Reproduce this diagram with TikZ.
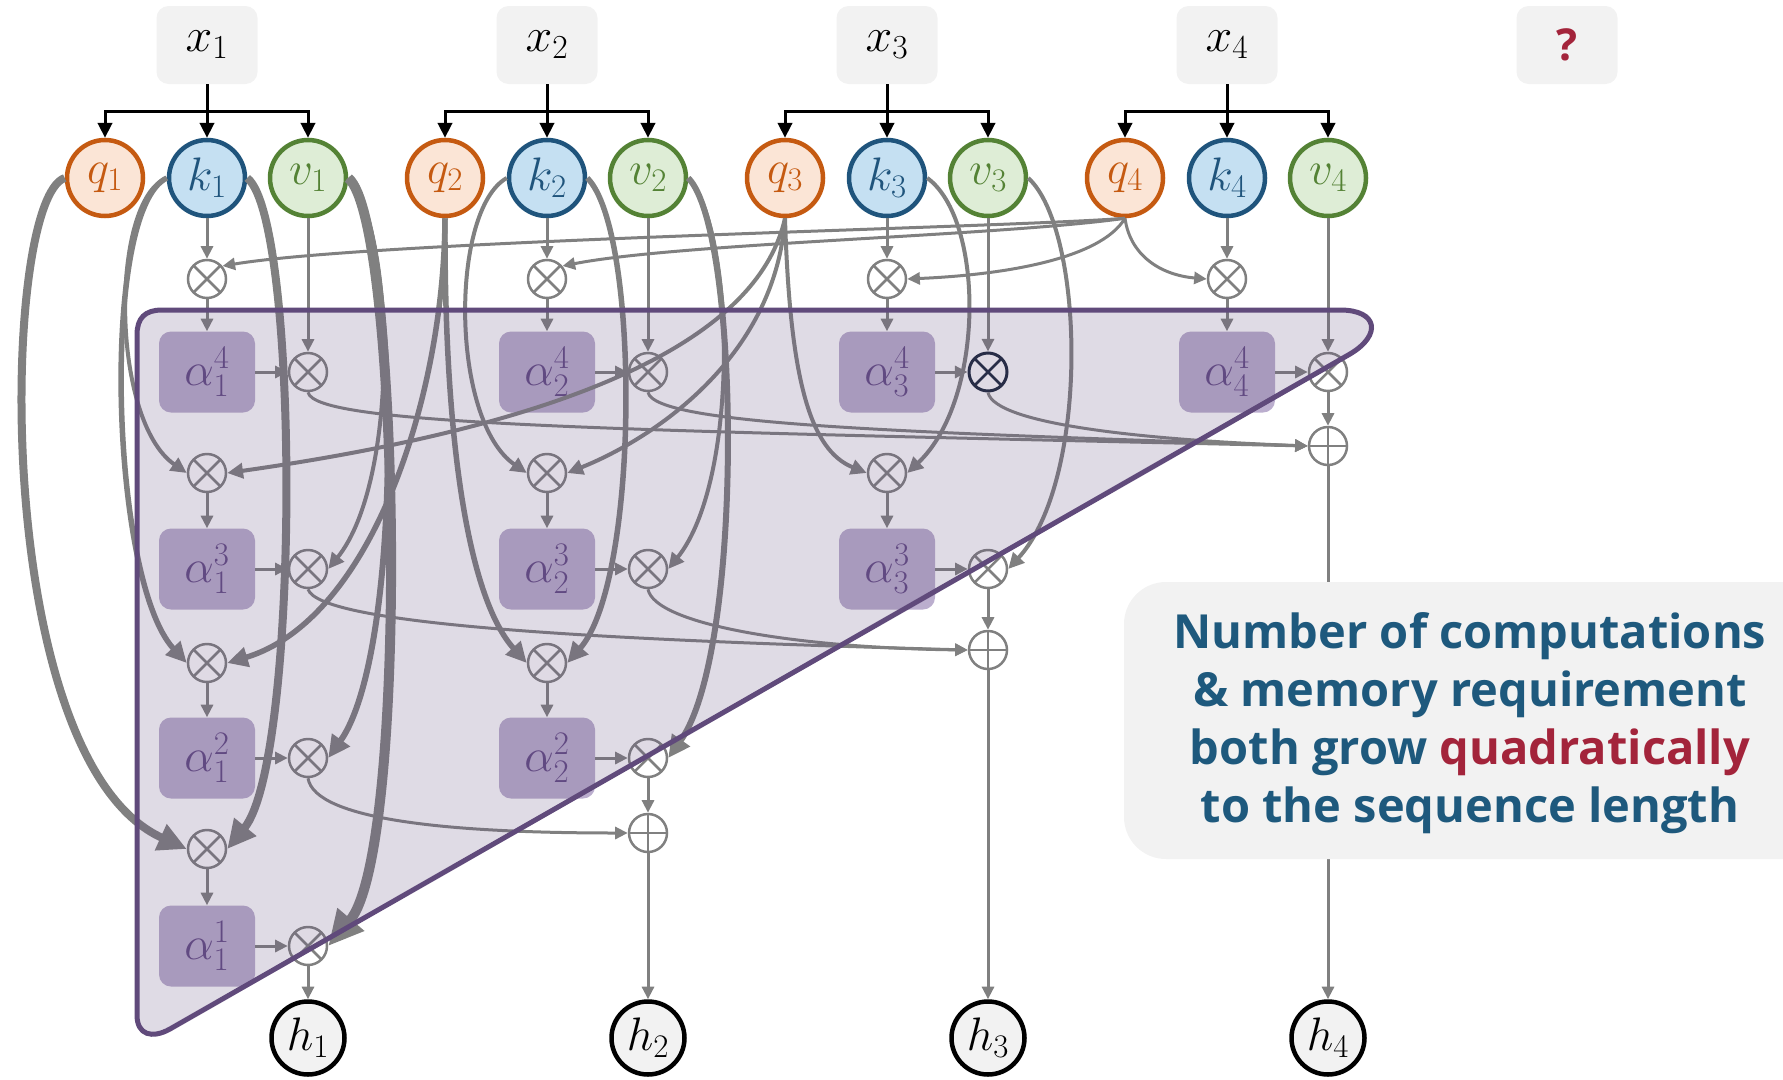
\documentclass[tikz,border=0pt]{standalone}
\usepackage{fix-cm}
\usepackage{fontspec}
\usepackage{tikz}
\usetikzlibrary{arrows.meta}
\newfontfamily\notefont{Open Sans}

\definecolor{qline}{RGB}{197,90,17}
\definecolor{qfill}{RGB}{251,229,214}
\definecolor{kline}{RGB}{31,84,124}
\definecolor{kfill}{RGB}{197,224,242}
\definecolor{vline}{RGB}{84,130,53}
\definecolor{vfill}{RGB}{222,237,214}
\definecolor{boxgray}{RGB}{242,242,242}
\definecolor{arrowgray}{RGB}{128,128,128}
\definecolor{alphafill}{RGB}{187,174,206}
\definecolor{alphatext}{RGB}{98,74,132}
\definecolor{regionpurple}{RGB}{96,74,123}
\definecolor{noteblue}{RGB}{30,89,125}
\definecolor{notered}{RGB}{163,36,59}
\definecolor{darkmul}{RGB}{27,38,59}

\begin{document}
\begin{tikzpicture}[x=1pt, y=1pt,
  inbox/.style={fill=boxgray, rounded corners=12pt, minimum width=101pt, minimum height=78pt, inner sep=0pt, font=\fontsize{48}{48}\selectfont},
  token/.style={circle, line width=4.5pt, minimum size=76pt, inner sep=0pt, font=\fontsize{47}{47}\selectfont},
  qnode/.style={token, draw=qline, fill=qfill, text=qline},
  knode/.style={token, draw=kline, fill=kfill, text=kline},
  vnode/.style={token, draw=vline, fill=vfill, text=vline},
  hnode/.style={token, draw=black, fill=boxgray, minimum size=73pt},
  alphabox/.style={fill=alphafill, rounded corners=12pt, minimum width=96pt, minimum height=81pt, inner sep=0pt, text=alphatext, font=\fontsize{47}{47}\selectfont},
  prodnode/.style={circle, draw=#1, fill=white, line width=2.5pt, minimum size=38pt, inner sep=0pt,
    path picture={\draw[#1, line width=2.5pt] (path picture bounding box.center) ++(45:25) -- ++(225:50)
      (path picture bounding box.center) ++(135:25) -- ++(-45:50);}},
  prodnode/.default=arrowgray,
  sumnode/.style={circle, draw=arrowgray, fill=white, line width=2.5pt, minimum size=38pt, inner sep=0pt,
    path picture={\draw[arrowgray, line width=2.5pt] (path picture bounding box.center) ++(0:25) -- ++(180:50)
      (path picture bounding box.center) ++(90:25) -- ++(270:50);}},
  fork/.style={draw=black, line width=3pt, -{Triangle[length=3pt 4, width=3pt 3.8]}},
  gline/.style={draw=arrowgray, line width=3pt, -{Triangle[length=3pt 3.2, width=3pt 3]}}
]

\useasboundingbox (0,0) rectangle (1783,-1079);

% column 1
\begin{scope}[xshift=0pt]
\node[inbox] (x1) at (207,-45) {$x_1$};
\coordinate (b1) at (207,-111);
\node[qnode] (q1) at (105,-178) {$q_1$};
\node[knode] (k1) at (207,-178) {$k_1$};
\node[vnode] (v1) at (308,-178) {$v_1$};

\node[prodnode] (qk41) at (207,-279) {};
\node[alphabox] (a41) at (207,-372) {$\alpha_1^4$};
\node[prodnode] (av41) at (308,-372) {};

\node[prodnode] (qk31) at (207,-473) {};
\node[alphabox] (a31) at (207,-569) {$\alpha_1^3$};
\node[prodnode] (av31) at (308,-569) {};

\node[prodnode] (qk21) at (207,-663) {};
\node[alphabox] (a21) at (207,-758) {$\alpha_1^2$};
\node[prodnode] (av21) at (308,-758) {};

\node[prodnode] (qk11) at (207,-849) {};
\node[alphabox] (a11) at (207,-946) {$\alpha_1^1$};
\node[prodnode] (av11) at (308,-946) {};

\node[hnode] (h1) at (308,-1038) {$h_1$};

\draw[fork] (x1) -- (k1);
\draw[fork] (b1) -| (q1);
\draw[fork] (b1) -| (v1);

\draw[gline] (k1) -- (qk41);
\draw[gline] (v1) -- (av41);
\draw[gline] (qk41) -- (a41);
\draw[gline] (a41) -- (av41);
\draw[gline] (qk31) -- (a31);
\draw[gline] (a31) -- (av31);
\draw[gline] (qk21) -- (a21);
\draw[gline] (a21) -- (av21);
\draw[gline] (qk11) -- (a11);
\draw[gline] (a11) -- (av11);
\draw[gline] (av11) -- (h1);
\end{scope}

% column 2
\begin{scope}[xshift=340pt]
\node[inbox] (x2) at (207,-45) {$x_2$};
\coordinate (b2) at (207,-111);
\node[qnode] (q2) at (105,-178) {$q_2$};
\node[knode] (k2) at (207,-178) {$k_2$};
\node[vnode] (v2) at (308,-178) {$v_2$};

\node[prodnode] (qk42) at (207,-279) {};
\node[alphabox] (a42) at (207,-372) {$\alpha_2^4$};
\node[prodnode] (av42) at (308,-372) {};

\node[prodnode] (qk32) at (207,-473) {};
\node[alphabox] (a32) at (207,-569) {$\alpha_2^3$};
\node[prodnode] (av32) at (308,-569) {};

\node[prodnode] (qk22) at (207,-663) {};
\node[alphabox] (a22) at (207,-758) {$\alpha_2^2$};
\node[prodnode] (av22) at (308,-758) {};

\node[sumnode] (s2) at (308,-833) {};
\node[hnode] (h2) at (308,-1038) {$h_2$};

\draw[fork] (x2) -- (k2);
\draw[fork] (b2) -| (q2);
\draw[fork] (b2) -| (v2);

\draw[gline] (k2) -- (qk42);
\draw[gline] (v2) -- (av42);
\draw[gline] (qk42) -- (a42);
\draw[gline] (a42) -- (av42);
\draw[gline] (qk32) -- (a32);
\draw[gline] (a32) -- (av32);
\draw[gline] (qk22) -- (a22);
\draw[gline] (a22) -- (av22);
\draw[gline] (av22) -- (s2);
\draw[gline] (s2) -- (h2);
\end{scope}

% column 3
\begin{scope}[xshift=680pt]
\node[inbox] (x3) at (207,-45) {$x_3$};
\coordinate (b3) at (207,-111);
\node[qnode] (q3) at (105,-178) {$q_3$};
\node[knode] (k3) at (207,-178) {$k_3$};
\node[vnode] (v3) at (308,-178) {$v_3$};

\node[prodnode] (qk43) at (207,-279) {};
\node[alphabox] (a43) at (207,-372) {$\alpha_3^4$};
\node[prodnode=darkmul, line width=3pt] (av43) at (308,-372) {};

\node[prodnode] (qk33) at (207,-473) {};
\node[alphabox] (a33) at (207,-569) {$\alpha_3^3$};
\node[prodnode] (av33) at (308,-569) {};

\node[sumnode] (s3) at (308,-650) {};
\node[hnode] (h3) at (308,-1038) {$h_3$};

\draw[fork] (x3) -- (k3);
\draw[fork] (b3) -| (q3);
\draw[fork] (b3) -| (v3);

\draw[gline] (k3) -- (qk43);
\draw[gline] (v3) -- (av43);
\draw[gline] (qk43) -- (a43);
\draw[gline] (a43) -- (av43);
\draw[gline] (qk33) -- (a33);
\draw[gline] (a33) -- (av33);
\draw[gline] (av33) -- (s3);
\draw[gline] (s3) -- (h3);
\end{scope}

% column 4
\begin{scope}[xshift=1020pt]
\node[inbox] (x4) at (207,-45) {$x_4$};
\coordinate (b4) at (207,-111);
\node[qnode] (q4) at (105,-178) {$q_4$};
\node[knode] (k4) at (207,-178) {$k_4$};
\node[vnode] (v4) at (308,-178) {$v_4$};

\node[prodnode] (qk44) at (207,-279) {};
\node[alphabox] (a44) at (207,-372) {$\alpha_4^4$};
\node[prodnode] (av44) at (308,-372) {};

\node[sumnode] (s4) at (308,-446) {};
\node[hnode] (h4) at (308,-1038) {$h_4$};

\draw[fork] (x4) -- (k4);
\draw[fork] (b4) -| (q4);
\draw[fork] (b4) -| (v4);

\draw[gline] (k4) -- (qk44);
\draw[gline] (v4) -- (av44);
\draw[gline] (qk44) -- (a44);
\draw[gline] (a44) -- (av44);
\draw[gline] (av44) -- (s4);
\draw[gline] (s4) -- (h4);
\end{scope}

\node[inbox, text=notered, font=\notefont\bfseries\fontsize{44}{44}\selectfont] (qmark) at (1567,-45) {?};

% query 4
\draw[gline] (q4.south) .. controls (1000,-228) and (380,-240) .. (qk41.40);
\draw[gline] (q4.south) .. controls (1000,-236) and (680,-243) .. (qk42.40);
\draw[gline] (q4.south) .. controls (1100,-260) and (1000,-275) .. (qk43.east);
\draw[gline] (q4.south) .. controls (1130,-255) and (1160,-275) .. (qk44.west);

% query 3
\draw[gline, line width=4pt] (k1.west) .. controls (110,-200) and (110,-420) .. (qk31.west);
\draw[gline, line width=4pt] (k2.west) .. controls (450,-210) and (450,-420) .. (qk32.west);
\draw[gline, line width=4pt] (k3.east) .. controls (985,-220) and (985,-400) .. (qk33.east);
\draw[gline, line width=4pt] (q3.south) .. controls (760,-330) and (600,-420) .. (qk31.east);
\draw[gline, line width=4pt] (q3.south) .. controls (775,-360) and (650,-440) .. (qk32.east);
\draw[gline, line width=4pt] (q3.south) .. controls (790,-380) and (810,-450) .. (qk33.west);
\draw[gline, line width=4pt] (v1.east) .. controls (395,-230) and (400,-480) .. (av31.east);
\draw[gline, line width=4pt] (v2.east) .. controls (735,-230) and (740,-480) .. (av32.east);
\draw[gline, line width=4pt] (v3.east) .. controls (1085,-230) and (1090,-480) .. (av33.east);

% query 2
\draw[gline, line width=5.5pt] (k1.west) .. controls (100,-210) and (110,-580) .. (qk21.west);
\draw[gline, line width=5.5pt] (k2.east) .. controls (640,-230) and (640,-580) .. (qk22.east);
\draw[gline, line width=5.5pt] (q2.south) .. controls (444,-400) and (370,-620) .. (qk21.east);
\draw[gline, line width=5.5pt] (q2.south) .. controls (444,-450) and (470,-600) .. (qk22.west);
\draw[gline, line width=6pt] (v1.east) .. controls (400,-230) and (405,-650) .. (av21.east);
\draw[gline, line width=6pt] (v2.east) .. controls (740,-230) and (745,-650) .. (av22.east);

% query 1
\draw[gline, line width=8pt] (q1.west) .. controls (0,-200) and (-10,-760) .. (qk11.west);
\draw[gline, line width=8pt] (k1.east) .. controls (300,-220) and (300,-760) .. (qk11.east);
\draw[gline, line width=10pt] (v1.east) .. controls (400,-220) and (410,-850) .. (av11.east);

% weighted sums
\draw[gline] (av41.south) .. controls (315,-425) and (600,-430) .. (s4.west);
\draw[gline] (av42.south) .. controls (655,-425) and (900,-432) .. (s4.west);
\draw[gline] (av43.south) .. controls (995,-425) and (1150,-440) .. (s4.west);
\draw[gline] (av31.south) .. controls (320,-625) and (600,-640) .. (s3.west);
\draw[gline] (av32.south) .. controls (655,-625) and (800,-648) .. (s3.west);
\draw[gline] (av21.south) .. controls (315,-820) and (450,-833) .. (s2.west);

% attention region
\path[fill=regionpurple, fill opacity=0.2, draw=regionpurple, line width=5pt]
  (137,-335) .. controls (137,-318) and (145,-310) .. (162,-310) -- (1340,-310)
  .. controls (1378,-310) and (1382,-335) .. (1350,-354) -- (170,-1029)
  .. controls (152,-1039) and (137,-1035) .. (137,-1015) -- cycle;

% note
\fill[boxgray, rounded corners=42pt] (1124,-582) rectangle (1850,-859);
\node[font=\notefont\bfseries\fontsize{47}{58}\selectfont, text=noteblue, align=center] (note) at (1470,-723)
  {Number of computations\\\& memory requirement\\both grow \textcolor{notered}{quadratically}\\to the sequence length};

\end{tikzpicture}
\end{document}
